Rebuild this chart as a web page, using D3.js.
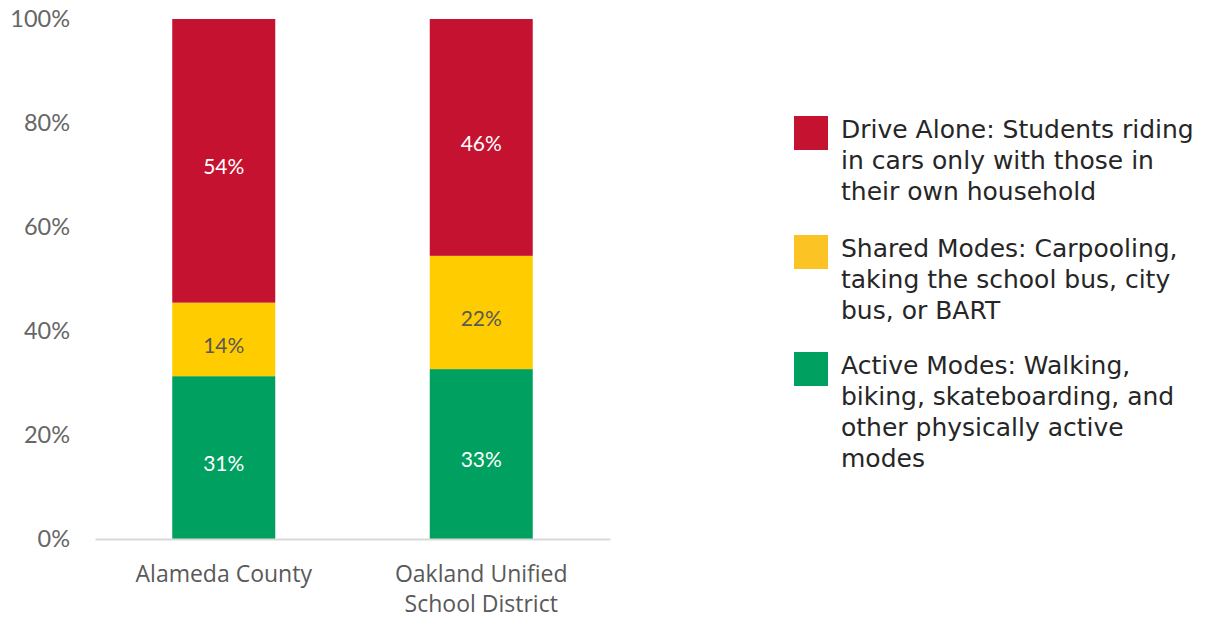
<!DOCTYPE html>
<html><head><meta charset="utf-8">
<script src="https://cdn.jsdelivr.net/npm/d3@7"></script>
<style>body{margin:0;background:#fff}</style>
</head><body>
<svg id="c" width="1205" height="620"></svg>
<script>
const categories = [["Alameda County"], ["Oakland Unified", "School District"]];
const categoryKeys = ["Alameda County", "Oakland Unified School District"];
const seriesNames = ["Active Modes", "Shared Modes", "Drive Alone"];
const activeModes = [31, 33];
const sharedModes = [14, 22];
const driveAlone = [54, 46];
const yTicks = [0, 0.2, 0.4, 0.6, 0.8, 1.0];
const legendLabels = [
  ["Drive Alone: Students riding", "in cars only with those in", "their own household"],
  ["Shared Modes: Carpooling,", "taking the school bus, city", "bus, or BART"],
  ["Active Modes: Walking,", "biking, skateboarding, and", "other physically active", "modes"]
];
const colors = {"Active Modes": "#00A160", "Shared Modes": "#FFCC00", "Drive Alone": "#C41230"};
const legendColors = ["#C41230", "#FCC324", "#00A160"];
const labelColors = {"Active Modes": "#ffffff", "Shared Modes": "#595959", "Drive Alone": "#ffffff"};

const rows = categoryKeys.map((k, i) => ({
  cat: k,
  "Active Modes": activeModes[i],
  "Shared Modes": sharedModes[i],
  "Drive Alone": driveAlone[i]
}));

const svg = d3.select("#c");
const x = d3.scaleBand().domain(categoryKeys).range([95, 610]).paddingInner(0.6).paddingOuter(0.3);
const y = d3.scaleLinear().domain([0, 1]).range([539, 19]);

const stack = d3.stack().keys(seriesNames).offset(d3.stackOffsetExpand);
const series = stack(rows);

// y axis labels
const yAxis = d3.axisLeft(y).tickValues(yTicks).tickFormat(d3.format(".0%")).tickSize(0).tickPadding(0);
const gy = svg.append("g").attr("transform", "translate(70,0)").call(yAxis);
gy.select(".domain").remove();
gy.selectAll("text").attr("font-family", "Lato, sans-serif").attr("font-size", 23.5).attr("fill", "#666666");

// bars
const g = svg.append("g");
series.forEach(s => {
  g.selectAll(null).data(s).enter().append("rect")
    .attr("x", d => x(d.data.cat))
    .attr("width", x.bandwidth())
    .attr("y", d => y(d[1]))
    .attr("height", d => y(d[0]) - y(d[1]))
    .attr("fill", colors[s.key]);
  g.selectAll(null).data(s).enter().append("text")
    .attr("x", d => x(d.data.cat) + x.bandwidth() / 2)
    .attr("y", d => (y(d[0]) + y(d[1])) / 2 + 6)
    .attr("dy", "0.35em")
    .attr("text-anchor", "middle")
    .attr("font-family", "Lato, sans-serif")
    .attr("font-size", 21)
    .attr("fill", labelColors[s.key])
    .text(d => d.data[s.key] + "%");
});

// x axis
const xAxis = d3.axisBottom(x).tickSize(0).tickFormat("");
const gx = svg.append("g").attr("transform", "translate(0,539)").call(xAxis);
gx.select(".domain").attr("stroke", "#d9d9d9").attr("stroke-width", 2);
categoryKeys.forEach((k, i) => {
  const t = svg.append("text")
    .attr("x", x(k) + x.bandwidth() / 2)
    .attr("text-anchor", "middle")
    .attr("font-family", "'Open Sans', sans-serif")
    .attr("font-size", 23)
    .attr("fill", "#595959");
  categories[i].forEach((line, j) => {
    t.append("tspan").attr("x", x(k) + x.bandwidth() / 2).attr("y", 582 + j * 30).text(line);
  });
});

// legend
const legendTops = [116, 235, 352];
legendLabels.forEach((lines, i) => {
  svg.append("rect").attr("x", 794).attr("y", legendTops[i]).attr("width", 34).attr("height", 34).attr("fill", legendColors[i]);
  const t = svg.append("text").attr("font-family", "'DejaVu Sans', sans-serif").attr("font-size", 25).attr("fill", "#262626");
  lines.forEach((line, j) => {
    t.append("tspan").attr("x", 841).attr("y", legendTops[i] + 22 + j * 31).text(line);
  });
});
</script>
</body></html>
